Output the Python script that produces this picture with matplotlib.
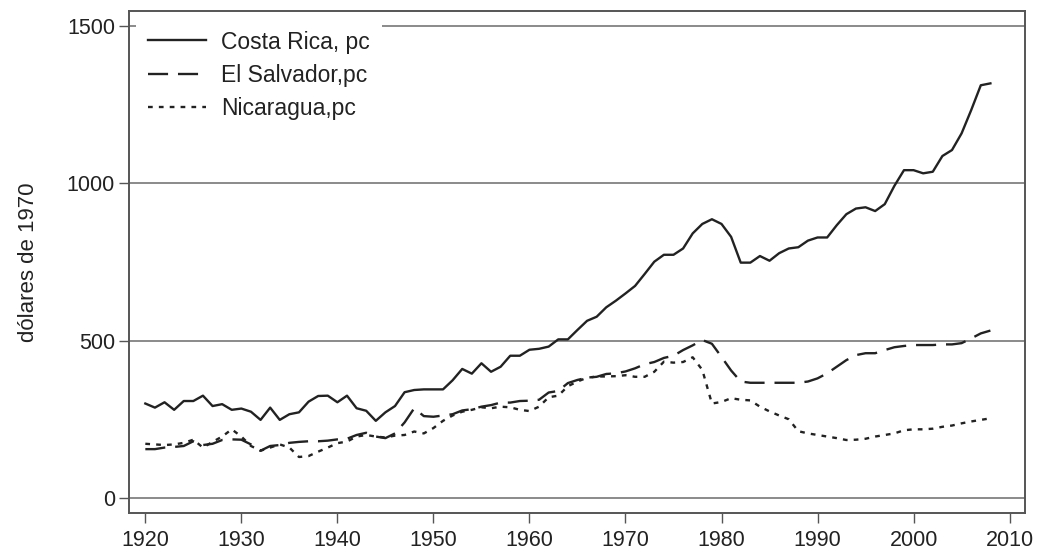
import numpy as np
import matplotlib
matplotlib.use("Agg")
import matplotlib.pyplot as plt

plt.rcParams['font.family'] = ['Liberation Sans', 'DejaVu Sans']

years = list(range(1920, 2009))

costa_rica = [
    300, 287, 304, 280, 308, 308, 325, 292, 298, 280,
    284, 274, 248, 287, 248, 266, 272, 306, 324, 325,
    304, 325, 285, 277, 245, 272, 292, 336, 343, 345,
    345, 345, 374, 410, 395, 428, 401, 417, 452, 452,
    471, 474, 481, 504, 504, 534, 563, 576, 606, 627,
    650, 674, 712, 751, 773, 773, 793, 841, 871, 886,
    871, 830, 748, 748, 769, 754, 778, 793, 797, 818,
    828, 828, 867, 902, 920, 924, 912, 934, 992, 1042,
    1042, 1032, 1037, 1087, 1106, 1159, 1233, 1312, 1318,
]

el_salvador = [
    155, 155, 160, 162, 165, 180, 168, 172, 184, 186,
    185, 170, 150, 165, 168, 175, 178, 180, 180, 182,
    186, 188, 200, 207, 195, 190, 205, 240, 285, 260,
    258, 262, 266, 278, 282, 290, 295, 303, 303, 308,
    309, 312, 335, 340, 365, 375, 382, 385, 394, 396,
    402, 412, 425, 432, 445, 452, 470, 485, 502, 490,
    448, 405, 370, 366, 366, 366, 366, 366, 366, 370,
    380, 396, 417, 438, 454, 460, 460, 470, 479, 483,
    486, 486, 486, 488, 488, 492, 507, 523, 532,
]

nicaragua = [
    172, 170, 168, 170, 175, 185, 160, 178, 195, 218,
    195, 165, 150, 160, 170, 160, 130, 133, 147, 160,
    174, 179, 195, 200, 195, 192, 198, 200, 211, 205,
    222, 245, 262, 274, 280, 288, 285, 290, 288, 280,
    276, 290, 320, 325, 355, 370, 382, 386, 386, 387,
    390, 385, 385, 401, 433, 430, 432, 447, 407, 300,
    305, 317, 312, 310, 290, 275, 262, 250, 212, 205,
    200, 195, 190, 184, 185, 188, 195, 200, 205, 215,
    218, 218, 220, 226, 230, 237, 243, 248, 253,
]

series_labels = ["Costa Rica, pc", "El Salvador,pc", "Nicaragua,pc"]
y_ticks = [0, 500, 1000, 1500]
x_ticks = list(range(1920, 2011, 10))

fig = plt.figure(figsize=(10.37, 5.52), dpi=100)
ax = fig.add_axes([0.1244, 0.0707, 0.8640, 0.9093])

line_color = "#222222"
ax.plot(years, costa_rica, color=line_color, lw=1.7, ls="-", label=series_labels[0])
ax.plot(years, el_salvador, color=line_color, lw=1.7, ls=(0, (8.5, 4.2)), label=series_labels[1])
ax.plot(years, nicaragua, color=line_color, lw=1.7, ls=(0, (2, 2.6)), label=series_labels[2])

ax.set_xlim(1918.3, 2011.6)
ax.set_ylim(-48, 1548)
ax.set_yticks(y_ticks)
ax.set_xticks(x_ticks)
ax.tick_params(axis="both", direction="out", length=7, width=1, color="#555555",
               labelsize=15.5, labelcolor="#222222")
ax.tick_params(axis="y", pad=3)
ax.tick_params(axis="x", pad=5)

ax.yaxis.grid(True, color="#8a8a8a", lw=1.4)
ax.set_axisbelow(True)
for sp in ax.spines.values():
    sp.set_color("#555555")
    sp.set_linewidth(1.4)

ax.set_ylabel("dólares de 1970", fontsize=16, color="#222222", labelpad=20)

leg = ax.legend(loc="upper left", fontsize=16.5, frameon=True, fancybox=False,
                handlelength=2.5, handletextpad=0.65, labelspacing=0.45,
                borderaxespad=0.3, borderpad=0.55)
leg.get_frame().set_facecolor("white")
leg.get_frame().set_edgecolor("none")
leg.get_frame().set_alpha(1)
leg.set_zorder(5)
for t in leg.get_texts():
    t.set_color("#222222")

fig.savefig("out.png", dpi=100)
